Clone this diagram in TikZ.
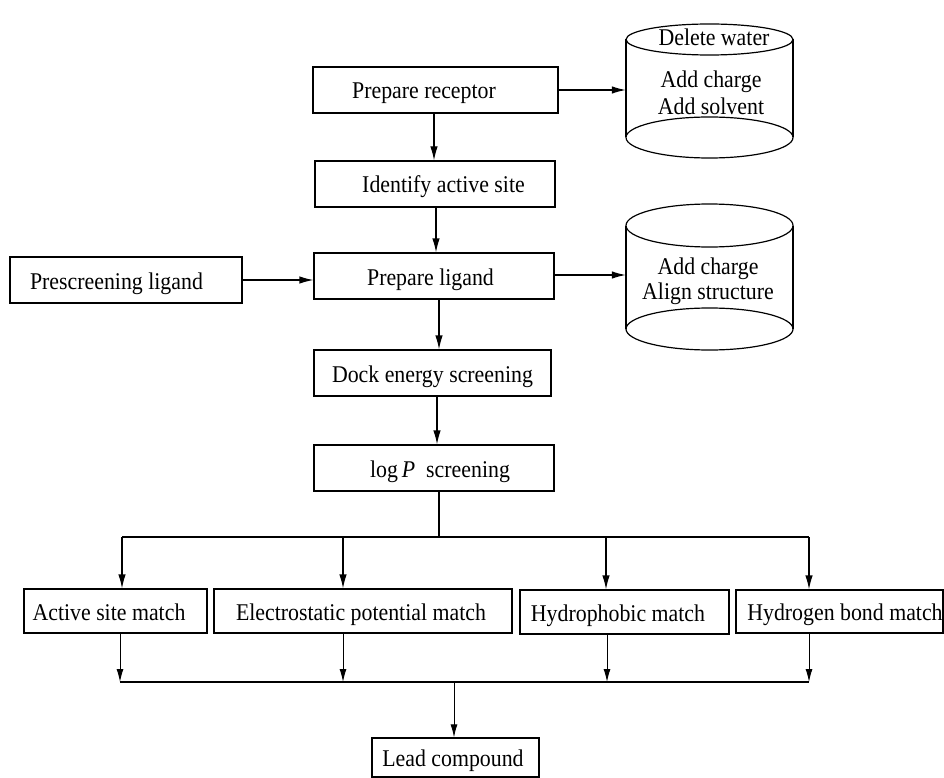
\documentclass[tikz,border=0pt]{standalone}
\usepackage{fontspec}
\setmainfont{Liberation Serif}[FakeStretch=0.91]
\usetikzlibrary{arrows.meta}
\begin{document}
\begin{tikzpicture}[x=1pt,y=-1pt,
  box/.style={draw, line width=1.2pt, inner sep=0pt, text height=18pt, text depth=0pt, font=\fontsize{24}{28}\selectfont},
  lbl/.style={inner sep=0pt, text height=18pt, text depth=0pt, font=\fontsize{24}{28}\selectfont},
  arr/.style={line width=1.2pt, -{Latex[length=14pt,width=7.5pt]}},
  arrb/.style={line width=1pt, -{Latex[length=13pt,width=7pt]}},
  cyl/.style={line width=1.2pt},
  ghost/.style={inner sep=0pt}
  ]
\useasboundingbox (0,0) rectangle (944,778);

% main boxes
\node[box, minimum width=245pt, minimum height=46pt] (rec) at (435.5,90) {\hspace*{-23pt}Prepare receptor};
\node[box, minimum width=240pt, minimum height=46pt] (idf) at (435,184) {\hspace*{17pt}Identify active site};
\node[box, minimum width=240pt, minimum height=46pt] (lig) at (434,276) {\hspace*{-7pt}Prepare ligand};
\node[box, minimum width=232pt, minimum height=46pt] (pre) at (126,280) {\hspace*{-19pt}Prescreening ligand};
\node[box, minimum width=237pt, minimum height=46pt] (dock) at (432.5,373) {Dock energy screening};
\node[box, minimum width=240pt, minimum height=46pt] (logp) at (434,468) {\hspace*{12pt}log\,\textit{P}\ \ screening};

\node[box, minimum width=183pt, minimum height=44pt] (act) at (115.5,611) {\hspace*{-13pt}Active site match};
\node[box, minimum width=298pt, minimum height=44pt] (ele) at (363,611) {\hspace*{-4pt}Electrostatic potential match};
\node[box, minimum width=209pt, minimum height=44pt] (hyd) at (624.5,612) {\hspace*{-13pt}Hydrophobic match};
\node[box, minimum width=207pt, minimum height=43pt] (hbd) at (839.5,611.5) {\hspace*{11pt}Hydrogen bond match};
\node[box, minimum width=167pt, minimum height=39pt] (lead) at (455.5,757.5) {\hspace*{-5pt}Lead compound};

% cylinder 1
\node[ghost, minimum width=167pt, minimum height=98pt] (db1) at (709.5,88.5) {};
\draw[cyl] (626,39.5) -- (626,137.5) (793,39.5) -- (793,137.5);
\draw[cyl, fill=white] (709.5,39.5) ellipse [x radius=83.5pt, y radius=15.5pt];
\draw[cyl] (709.5,137.5) ellipse [x radius=83.5pt, y radius=20.5pt];
\node[lbl] (t1a) at (714,37) {Delete water};
\node[lbl] (t1b) at (711,79) {Add charge};
\node[lbl] (t1c) at (711,106) {Add solvent};

% cylinder 2
\node[ghost, minimum width=167pt, minimum height=104pt] (db2) at (709.5,277) {};
\draw[cyl] (626,225.5) -- (626,329) (793,225.5) -- (793,329);
\draw[cyl] (709.5,225.5) ellipse [x radius=83.5pt, y radius=21.5pt];
\draw[cyl] (709.5,329) ellipse [x radius=83.5pt, y radius=21pt];
\node[lbl] (t2a) at (708,265) {Add charge};
\node[lbl] (t2b) at (708,290) {Align structure};

% connectors (upper)
\draw[arr] (rec.east) -- (rec.east -| db1.west);
\draw[arr] ([yshift=1pt]lig.east) -- ([yshift=1pt]lig.east -| db2.west);
\draw[arr] (pre.east) -- (pre.east -| lig.west);
\draw[arr] ([xshift=-1.5pt]rec.south) -- ([xshift=-1.5pt]rec.south |- idf.north);
\draw[arr] ([xshift=1pt]idf.south) -- ([xshift=1pt]idf.south |- lig.north);
\draw[arr] ([xshift=5pt]lig.south) -- ([xshift=5pt]lig.south |- dock.north);
\draw[arr] ([xshift=4.5pt]dock.south) -- ([xshift=4.5pt]dock.south |- logp.north);

% fan out
\coordinate (t0) at (439,537);
\coordinate (b1) at (122,537);
\coordinate (b2) at (343,537);
\coordinate (b3) at (606,537);
\coordinate (b4) at (809,537);
\draw[line width=1.3pt] (logp.south -| t0) -- (t0);
\draw[line width=1.3pt] (b1) -- (b4);
\draw[arr] (b1) -- (b1 |- act.north);
\draw[arr] (b2) -- (b2 |- ele.north);
\draw[arr] (b3) -- (b3 |- hyd.north);
\draw[arr] (b4) -- (b4 |- hbd.north);

% fan in
\coordinate (c1) at (120,682);
\coordinate (c2) at (343,682);
\coordinate (c3) at (607,682);
\coordinate (c4) at (809,682);
\coordinate (c0) at (454,682);
\draw[arrb] (act.south -| c1) -- (c1);
\draw[arrb] (ele.south -| c2) -- (c2);
\draw[arrb] (hyd.south -| c3) -- (c3);
\draw[arrb] (hbd.south -| c4) -- (c4);
\draw[line width=1.2pt] (c1) -- (c4);
\draw[arrb] (c0) -- (c0 |- lead.north);
\end{tikzpicture}
\end{document}
